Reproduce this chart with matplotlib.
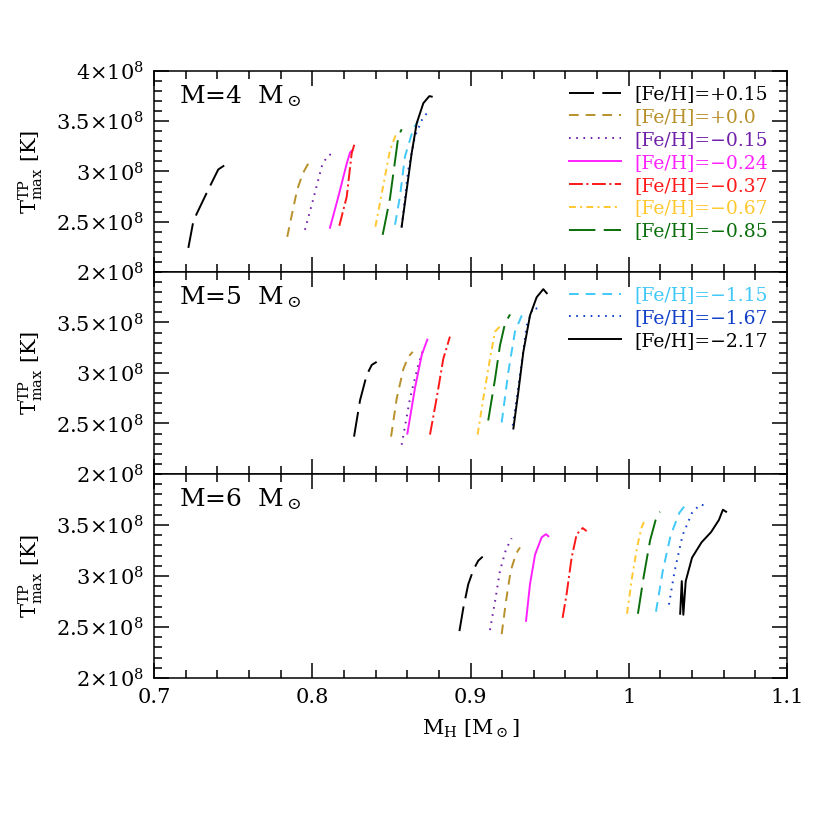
import matplotlib
matplotlib.use("Agg")
import matplotlib.pyplot as plt
from matplotlib.ticker import MultipleLocator, FuncFormatter

plt.rcParams['font.family'] = ['DejaVu Serif']
plt.rcParams['mathtext.fontset'] = 'dejavuserif'
plt.rcParams['lines.scale_dashes'] = False

# metallicities, colours and line styles (same order everywhere)
feh_labels = ['+0.15', '+0.0', '\u22120.15', '\u22120.24', '\u22120.37',
              '\u22120.67', '\u22120.85', '\u22121.15', '\u22121.67', '\u22122.17']
feh_colors = ['black', '#b8902a', '#7020a8', '#ff20ff', '#ff1818',
              '#ffc830', '#0a6e0a', '#40c8f8', '#1040c8', 'black']
feh_dashes = [(18, 6), (7, 5), (1.2, 4), None, (10, 2.5, 1.5, 2.5),
              (5, 3, 1.5, 3), (19, 6), (7, 5), (1.2, 4), None]

# M = 4 Msun : core mass M_H and T_max^TP (units of 1e8 K)
m4_mh = [
    [0.7217, 0.7248, 0.7270, 0.7343, 0.7406, 0.7463],
    [0.7842, 0.7875, 0.7905, 0.7940, 0.7975, 0.8005],
    [0.7954, 0.8007, 0.8060, 0.8090, 0.8123],
    [0.8112, 0.8165, 0.8218, 0.8239, 0.8253],
    [0.8171, 0.8218, 0.8249, 0.8270],
    [0.8399, 0.8439, 0.8491, 0.8534],
    [0.8445, 0.8491, 0.8544, 0.8565],
    [0.8523, 0.8554, 0.8586, 0.8639, 0.8670],
    [0.8565, 0.8607, 0.8649, 0.8692, 0.8733],
    [0.8565, 0.8597, 0.8628, 0.8660, 0.8702, 0.8740, 0.8755],
]
m4_t = [
    [2.24, 2.50, 2.58, 2.82, 3.02, 3.08],
    [2.35, 2.60, 2.82, 2.98, 3.08, 3.12],
    [2.42, 2.73, 3.05, 3.14, 3.18],
    [2.44, 2.75, 3.08, 3.19, 3.21],
    [2.46, 2.75, 3.18, 3.29],
    [2.45, 2.78, 3.21, 3.39],
    [2.37, 2.73, 3.35, 3.42],
    [2.47, 2.75, 3.15, 3.43, 3.50],
    [2.45, 3.02, 3.35, 3.51, 3.60],
    [2.45, 2.82, 3.18, 3.48, 3.68, 3.75, 3.745],
]

# M = 5 Msun
m5_mh = [
    [0.8264, 0.8302, 0.8344, 0.8376, 0.8407],
    [0.8498, 0.8534, 0.8576, 0.8607, 0.8635],
    [0.8565, 0.8618, 0.8670, 0.8702],
    [0.8601, 0.8649, 0.8692, 0.8727],
    [0.8744, 0.8786, 0.8828, 0.8870],
    [0.9045, 0.9081, 0.9123, 0.9155, 0.9197],
    [0.9112, 0.9155, 0.9186, 0.9218, 0.9250],
    [0.9197, 0.9239, 0.9281, 0.9324],
    [0.9267, 0.9292, 0.9324, 0.9355, 0.9397, 0.9450],
    [0.9271, 0.9302, 0.9334, 0.9376, 0.9418, 0.9460, 0.9482],
]
m5_t = [
    [2.37, 2.73, 2.98, 3.08, 3.11],
    [2.37, 2.75, 3.04, 3.16, 3.21],
    [2.29, 2.75, 3.08, 3.24],
    [2.40, 2.85, 3.18, 3.33],
    [2.39, 2.75, 3.14, 3.36],
    [2.39, 2.75, 3.14, 3.41, 3.48],
    [2.53, 2.94, 3.27, 3.49, 3.58],
    [2.51, 3.01, 3.41, 3.57],
    [2.48, 2.75, 3.11, 3.47, 3.65, 3.62],
    [2.45, 2.81, 3.21, 3.57, 3.75, 3.83, 3.79],
]

# M = 6 Msun
m6_mh = [
    [0.8930, 0.8955, 0.8986, 0.9018, 0.9049, 0.9077],
    [0.9197, 0.9224, 0.9254, 0.9288, 0.9313],
    [0.9123, 0.9155, 0.9186, 0.9224, 0.9260],
    [0.9351, 0.9376, 0.9408, 0.9450, 0.9477, 0.9492],
    [0.9582, 0.9607, 0.9639, 0.9671, 0.9709, 0.9734],
    [0.9989, 1.0020, 1.0055, 1.0080, 1.0096],
    [1.0058, 1.0095, 1.0135, 1.0170, 1.0197],
    [1.0172, 1.0215, 1.0265, 1.0320, 1.0355, 1.0375],
    [1.0254, 1.0290, 1.0340, 1.0400, 1.0450, 1.0490],
    [1.0325, 1.0335, 1.0345, 1.0360, 1.0400, 1.0460, 1.0520, 1.0570, 1.0595, 1.0615],
]
m6_t = [
    [2.46, 2.69, 2.92, 3.06, 3.15, 3.19],
    [2.43, 2.75, 3.05, 3.22, 3.28],
    [2.47, 2.75, 3.05, 3.26, 3.37],
    [2.56, 2.92, 3.21, 3.38, 3.41, 3.39],
    [2.59, 2.82, 3.18, 3.41, 3.47, 3.44],
    [2.63, 2.98, 3.30, 3.47, 3.53],
    [2.63, 3.00, 3.35, 3.55, 3.63],
    [2.65, 3.05, 3.40, 3.62, 3.69, 3.67],
    [2.72, 3.05, 3.40, 3.62, 3.70, 3.69],
    [2.63, 2.95, 2.62, 2.95, 3.18, 3.33, 3.43, 3.55, 3.65, 3.63],
]

masses = [4, 5, 6]
all_mh = [m4_mh, m5_mh, m6_mh]
all_t = [m4_t, m5_t, m6_t]


def ylab(v, pos):
    v = round(v, 2)
    if v == int(v):
        s = '%d' % v
    else:
        s = '%.1f' % v
    return r'$%s{\times}10^{8}$' % s


def xlab(v, pos):
    v = round(v, 2)
    if v == int(v):
        return '%d' % v
    return '%.1f' % v


fig = plt.figure(figsize=(8.3, 8.3), dpi=100)
left, right = 154 / 830, 787 / 830
tops = [71, 272, 474]
bots = [272, 474, 678]
axes = []
for k in range(3):
    ax = fig.add_axes([left, 1 - bots[k] / 830, right - left, (bots[k] - tops[k]) / 830])
    axes.append(ax)
    for i in range(10):
        kw = dict(color=feh_colors[i], lw=1.4, label='[Fe/H]=' + feh_labels[i])
        if feh_dashes[i] is not None:
            kw['dashes'] = feh_dashes[i]
        ax.plot(all_mh[k][i], all_t[k][i], **kw)

    ax.set_xlim(0.7, 1.1)
    ax.set_ylim(2.0, 4.0)
    ax.xaxis.set_major_locator(MultipleLocator(0.1))
    ax.xaxis.set_minor_locator(MultipleLocator(0.02))
    ax.yaxis.set_major_locator(MultipleLocator(0.5))
    ax.yaxis.set_minor_locator(MultipleLocator(0.1))
    ax.tick_params(which='both', direction='in', top=True, right=True, width=1.1)
    ax.tick_params(which='major', length=11, labelsize=15, pad=7)
    ax.tick_params(which='minor', length=6)
    for sp in ax.spines.values():
        sp.set_linewidth(1.1)
    ax.yaxis.set_major_formatter(FuncFormatter(ylab))
    if k > 0:
        ax.set_yticks([2.0, 2.5, 3.0, 3.5])
    if k < 2:
        ax.tick_params(labelbottom=False)
    else:
        ax.xaxis.set_major_formatter(FuncFormatter(xlab))
        ax.set_xlabel(r'M$_{\rm H}$ [M$_\odot$]', fontsize=15, labelpad=8)
    ax.set_ylabel(r'T$^{\rm TP}_{\rm max}$ [K]', fontsize=15, labelpad=8)
    ax.text(0.04, 0.94, r'M=%d  M$_\odot$' % masses[k], transform=ax.transAxes,
            fontsize=18, va='top', ha='left')

# legends: 7 entries in top panel, 3 in middle panel
leg_kw = dict(loc='upper left', bbox_to_anchor=(0.655, 0.93), frameon=False,
              fontsize=13.5, handlelength=2.77, handletextpad=0.75, labelspacing=0.26,
              borderpad=0, borderaxespad=0, labelcolor='linecolor')
h, l = axes[0].get_legend_handles_labels()
axes[0].legend(h[:7], l[:7], **leg_kw)
h, l = axes[1].get_legend_handles_labels()
axes[1].legend(h[7:], l[7:], **leg_kw)

fig.savefig('out.png', dpi=100)
